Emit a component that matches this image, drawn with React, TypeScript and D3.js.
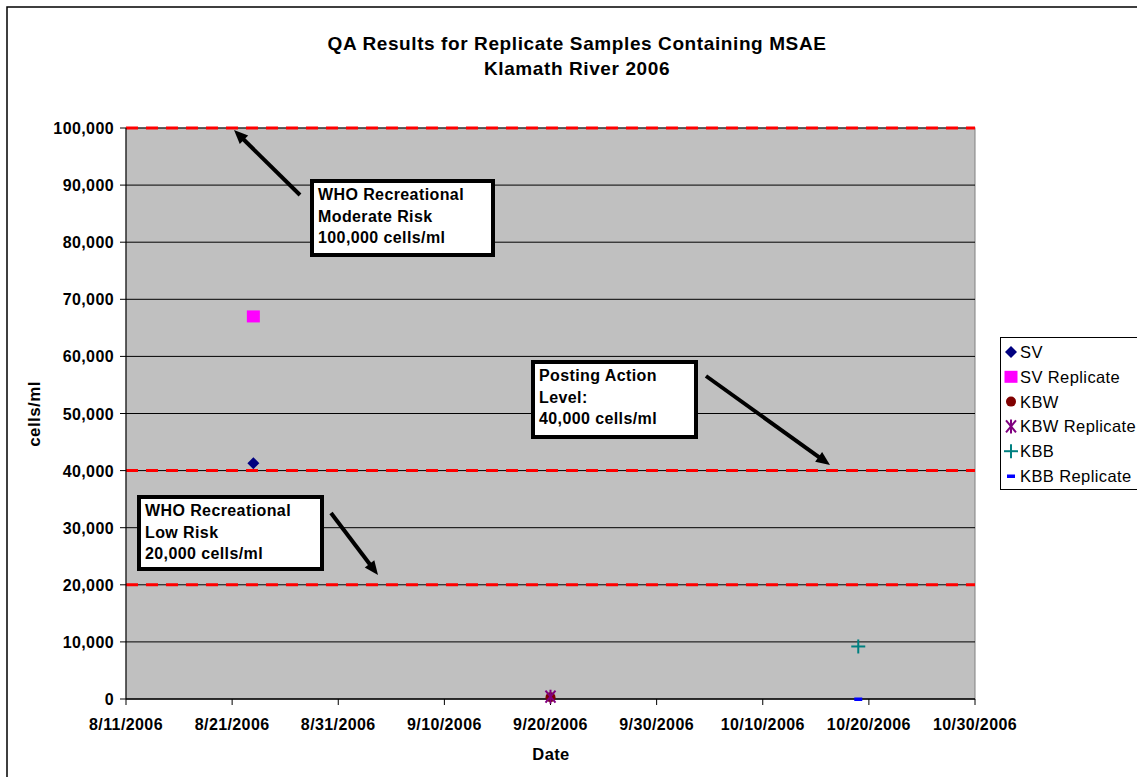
import React from "react";
import * as d3 from "d3";

const seriesNames = ["SV", "SV Replicate", "KBW", "KBW Replicate", "KBB", "KBB Replicate"];
const seriesDates = ["2006-08-23", "2006-08-23", "2006-09-20", "2006-09-20", "2006-10-19", "2006-10-19"];
const seriesValues = [41300, 67000, 300, 400, 9200, 0];
const seriesColors = ["#000080", "#ff00ff", "#800000", "#800080", "#008080", "#0000ff"];
const xTickLabels = ["8/11/2006", "8/21/2006", "8/31/2006", "9/10/2006", "9/20/2006", "9/30/2006", "10/10/2006", "10/20/2006", "10/30/2006"];
const yTicks = [0, 10000, 20000, 30000, 40000, 50000, 60000, 70000, 80000, 90000, 100000];
const thresholds = [100000, 40000, 20000];

const W = 1137, H = 777;
const left = 126, right = 975, top = 128, bottom = 699;
const parse = d3.timeParse("%Y-%m-%d");
const x = d3.scaleTime().domain([parse("2006-08-11")!, parse("2006-10-30")!]).range([left, right]);
const y = d3.scaleLinear().domain([0, 100000]).range([bottom, top]);
const fmt = d3.format(",");
const font = "'Liberation Sans', Arial, sans-serif";

function Marker({ i, cx, cy }: { i: number; cx: number; cy: number }) {
  const c = seriesColors[i];
  switch (i) {
    case 0:
      return <path d={`M${cx},${cy - 6}L${cx + 6},${cy}L${cx},${cy + 6}L${cx - 6},${cy}Z`} fill={c} />;
    case 1:
      return <rect x={cx - 6.5} y={cy - 6} width={13} height={12} fill={c} />;
    case 2:
      return <circle cx={cx} cy={cy} r={5} fill={c} />;
    case 3:
      return (
        <g stroke={c} strokeWidth={2}>
          <line x1={cx - 5} y1={cy - 6} x2={cx + 5} y2={cy + 6} />
          <line x1={cx + 5} y1={cy - 6} x2={cx - 5} y2={cy + 6} />
          <line x1={cx} y1={cy - 7} x2={cx} y2={cy + 7} />
        </g>
      );
    case 4:
      return (
        <g stroke={c} strokeWidth={2}>
          <line x1={cx - 7} y1={cy} x2={cx + 7} y2={cy} />
          <line x1={cx} y1={cy - 7} x2={cx} y2={cy + 7} />
        </g>
      );
    default:
      return <rect x={cx - 4} y={cy - 1.5} width={8} height={3.5} fill={c} />;
  }
}

function Arrow({ x1, y1, x2, y2 }: { x1: number; y1: number; x2: number; y2: number }) {
  const ang = Math.atan2(y2 - y1, x2 - x1);
  const L = 14, Wd = 6;
  const bx = x2 - L * Math.cos(ang), by = y2 - L * Math.sin(ang);
  const p1 = [bx + Wd * Math.sin(ang), by - Wd * Math.cos(ang)];
  const p2 = [bx - Wd * Math.sin(ang), by + Wd * Math.cos(ang)];
  return (
    <g>
      <line x1={x1} y1={y1} x2={bx + 3 * Math.cos(ang)} y2={by + 3 * Math.sin(ang)} stroke="#000" strokeWidth={4} />
      <path d={`M${x2},${y2}L${p1[0]},${p1[1]}L${p2[0]},${p2[1]}Z`} fill="#000" />
    </g>
  );
}

function Box({ bx, by, w, h, lines }: { bx: number; by: number; w: number; h: number; lines: string[] }) {
  return (
    <g>
      <rect x={bx} y={by} width={w} height={h} fill="#fff" stroke="#000" strokeWidth={4} />
      {lines.map((t, k) => (
        <text key={k} x={bx + 6} y={by + 19 + k * 21.5} fontFamily={font} fontWeight="bold" fontSize={16} letterSpacing={0.4} fill="#000">
          {t}
        </text>
      ))}
    </g>
  );
}

export default function App() {
  const xTicks = xTickLabels.map((l) => d3.timeParse("%m/%d/%Y")(l)!);
  const tick = { fontFamily: font, fontWeight: "bold" as const, fontSize: 16, letterSpacing: 0.4 };
  return (
    <svg width={W} height={H} style={{ position: "absolute", left: 0, top: 0, background: "#fff" }}>
      <rect x={7} y={7} width={W} height={H} fill="#fff" stroke="#000" strokeWidth={1.5} />
      <text x={577} y={50} textAnchor="middle" fontFamily={font} fontWeight="bold" fontSize={19} letterSpacing={0.6}>
        QA Results for Replicate Samples Containing MSAE
      </text>
      <text x={577} y={75} textAnchor="middle" fontFamily={font} fontWeight="bold" fontSize={19} letterSpacing={0.6}>
        Klamath River 2006
      </text>
      <rect x={left} y={top} width={right - left} height={bottom - top} fill="#c0c0c0" stroke="#808080" strokeWidth={1} />
      {yTicks.map((v) => (
        <g key={v}>
          {v > 0 && <line x1={left} x2={right} y1={y(v)} y2={y(v)} stroke="#000" strokeWidth={1} />}
          <line x1={left - 6} x2={left} y1={y(v)} y2={y(v)} stroke="#000" />
          <text x={left - 12} y={y(v) + 6} textAnchor="end" {...tick}>
            {fmt(v)}
          </text>
        </g>
      ))}
      {thresholds.map((v) => (
        <line key={v} x1={left} x2={right} y1={y(v)} y2={y(v)} stroke="#ff0000" strokeWidth={3} strokeDasharray="12,8" />
      ))}
      <line x1={left} x2={left} y1={top} y2={bottom} stroke="#000" strokeWidth={1} />
      <line x1={left} x2={right} y1={bottom} y2={bottom} stroke="#000" strokeWidth={1.5} />
      {xTicks.map((d, k) => (
        <g key={k}>
          <line x1={x(d)} x2={x(d)} y1={bottom} y2={bottom + 6} stroke="#000" />
          <text x={x(d)} y={730} textAnchor="middle" {...tick}>
            {xTickLabels[k]}
          </text>
        </g>
      ))}
      <text x={551} y={760} textAnchor="middle" {...tick} fontSize={16.5}>
        Date
      </text>
      <text transform="translate(40,414) rotate(-90)" textAnchor="middle" {...tick} fontSize={17}>
        cells/ml
      </text>
      {seriesNames.map((n, i) => (
        <Marker key={n} i={i} cx={x(parse(seriesDates[i])!)} cy={y(seriesValues[i])} />
      ))}
      <Arrow x1={300} y1={195} x2={234} y2={130} />
      <Arrow x1={706} y1={376} x2={830} y2={465} />
      <Arrow x1={331} y1={513} x2={378} y2={575} />
      <Box bx={312} by={181} w={181} h={74} lines={["WHO Recreational", "Moderate Risk", "100,000 cells/ml"]} />
      <Box bx={533} by={362} w={163} h={75} lines={["Posting Action", "Level:", "40,000 cells/ml"]} />
      <Box bx={139} by={497} w={183} h={72} lines={["WHO Recreational", "Low Risk", "20,000 cells/ml"]} />
      <rect x={1000.5} y={337.5} width={150} height={152} fill="#fff" stroke="#000" strokeWidth={1} />
      {seriesNames.map((n, i) => {
        const ly = 352 + i * 24.8;
        return (
          <g key={n}>
            <Marker i={i} cx={1011} cy={ly} />
            <text x={1020} y={ly + 6} fontFamily={font} fontSize={16.5} letterSpacing={0.4}>
              {n}
            </text>
          </g>
        );
      })}
    </svg>
  );
}
